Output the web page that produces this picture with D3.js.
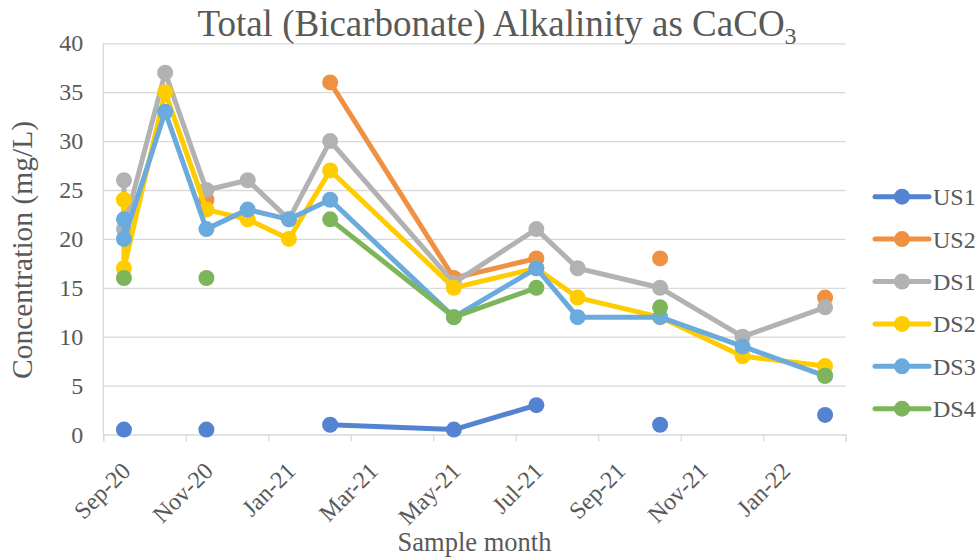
<!DOCTYPE html>
<html>
<head>
<meta charset="utf-8">
<script src="https://cdn.jsdelivr.net/npm/d3@7"></script>
<style>
  html, body { margin: 0; padding: 0; background: #fff; }
  svg { display: block; }
  text { font-family: "Liberation Serif", "Times New Roman", serif; fill: #595959; }
</style>
</head>
<body>
<svg id="chart" width="980" height="560"></svg>
<script>
// ---- Data ----
const months = ["Sep-20","Oct-20","Nov-20","Dec-20","Jan-21","Feb-21","Mar-21","Apr-21","May-21","Jun-21",
                "Jul-21","Aug-21","Sep-21","Oct-21","Nov-21","Dec-21","Jan-22","Feb-22"];
const tickLabels = ["Sep-20","Nov-20","Jan-21","Mar-21","May-21","Jul-21","Sep-21","Nov-21","Jan-22"];
const sampleMonths = ["Sep-20","Sep-20","Oct-20","Nov-20","Dec-20","Jan-21","Feb-21","May-21","Jul-21","Aug-21","Oct-21","Dec-21","Feb-22"];
const seriesNames = ["US1","US2","DS1","DS2","DS3","DS4"];
const US1 = [0.5, null, null, 0.5, null, null, 1, 0.5, 3, null, 1, null, 2];
const US2 = [null, null, null, 24, null, null, 36, 16, 18, null, 18, null, 14];
const DS1 = [26, 21, 37, 25, 26, 22, 30, 15.5, 21, 17, 15, 10, 13];
const DS2 = [24, 17, 35, 23, 22, 20, 27, 15, 17, 14, 12, 8, 7];
const DS3 = [22, 20, 33, 21, 23, 22, 24, 12, 17, 12, 12, 9, 6];
const DS4 = [16, null, null, 16, null, null, 22, 12, 15, null, 13, null, 6];
const yTicks = [0, 5, 10, 15, 20, 25, 30, 35, 40];
const colors = ["#5483D1", "#F09042", "#B2B2B2", "#FFCC00", "#6AAADD", "#7DB55A"];

const seriesValues = [US1, US2, DS1, DS2, DS3, DS4];

// ---- Layout ----
const svg = d3.select("#chart");
const plot = { left: 103.3, right: 845.7, top: 43.3, bottom: 434.5 };

const xIdx = d3.scaleLinear().domain([0, months.length]).range([plot.left, plot.right]);
const xMonth = m => xIdx(months.indexOf(m) + 0.5);
const y = d3.scaleLinear().domain([0, 40]).range([plot.bottom, plot.top]);

// gridlines
svg.append("g")
  .attr("transform", `translate(${plot.left},0)`)
  .call(d3.axisLeft(y).tickValues(yTicks.slice(1)).tickSize(-(plot.right - plot.left)).tickFormat(""))
  .call(g => g.select(".domain").remove())
  .call(g => g.selectAll("line").attr("stroke", "#d9d9d9").attr("stroke-width", 1.3));

// y axis line
svg.append("line")
  .attr("x1", plot.left).attr("x2", plot.left)
  .attr("y1", y(40)).attr("y2", y(0))
  .attr("stroke", "#d9d9d9").attr("stroke-width", 1.3);

// y tick labels
svg.append("g").selectAll("text").data(yTicks).join("text")
  .attr("x", plot.left - 20)
  .attr("y", d => y(d) + 8)
  .attr("text-anchor", "end")
  .style("font-size", "24px")
  .text(d => d);

// x axis
const tickIdx = d3.range(0, months.length + 1, 2);
svg.append("g")
  .attr("transform", `translate(0,${plot.bottom})`)
  .call(d3.axisBottom(xIdx).tickValues(tickIdx).tickSize(7).tickFormat(""))
  .call(g => g.select(".domain").attr("stroke", "#d9d9d9").attr("stroke-width", 1.3))
  .call(g => g.selectAll(".tick line").attr("stroke", "#d9d9d9").attr("stroke-width", 1.3));

// x tick labels (rotated)
svg.append("g").selectAll("text").data(tickLabels).join("text")
  .attr("transform", d => `translate(${xMonth(d) + 8},${plot.bottom + 38}) rotate(-45)`)
  .attr("text-anchor", "end")
  .style("font-size", "24px")
  .text(d => d);

// series
const line = d3.line()
  .defined(d => d.v !== null)
  .x(d => xMonth(d.m))
  .y(d => y(d.v));

seriesNames.forEach((name, si) => {
  const pts = sampleMonths.map((m, i) => ({ m, v: seriesValues[si][i] }));
  const g = svg.append("g");
  g.append("path")
    .datum(pts)
    .attr("d", line)
    .attr("fill", "none")
    .attr("stroke", colors[si])
    .attr("stroke-width", 5)
    .attr("stroke-linejoin", "round");
  g.selectAll("circle").data(pts.filter(d => d.v !== null)).join("circle")
    .attr("cx", d => xMonth(d.m))
    .attr("cy", d => y(d.v))
    .attr("r", 8)
    .attr("fill", colors[si]);
});

// title
const title = svg.append("text")
  .attr("x", 497).attr("y", 36)
  .attr("text-anchor", "middle")
  .style("font-size", "37px");
title.append("tspan").text("Total (Bicarbonate) Alkalinity as CaCO");
title.append("tspan").attr("dy", 8).style("font-size", "24px").text("3");

// axis titles
svg.append("text")
  .attr("x", (plot.left + plot.right) / 2).attr("y", 551)
  .attr("text-anchor", "middle")
  .style("font-size", "26.5px")
  .text("Sample month");

svg.append("text")
  .attr("transform", `translate(32,250) rotate(-90)`)
  .attr("text-anchor", "middle")
  .style("font-size", "29.5px")
  .text("Concentration (mg/L)");

// legend
const legendY0 = 196.7, legendStep = 42.4;
const lg = svg.append("g").selectAll("g").data(seriesNames).join("g")
  .attr("transform", (d, i) => `translate(0,${legendY0 + i * legendStep})`);
lg.append("line")
  .attr("x1", 875).attr("x2", 929).attr("y1", 0).attr("y2", 0)
  .attr("stroke", (d, i) => colors[i]).attr("stroke-width", 5).attr("stroke-linecap", "round");
lg.append("circle")
  .attr("cx", 902).attr("cy", 0).attr("r", 8)
  .attr("fill", (d, i) => colors[i]);
lg.append("text")
  .attr("x", 933).attr("y", 8.5)
  .style("font-size", "24px")
  .text(d => d);
</script>
</body>
</html>
